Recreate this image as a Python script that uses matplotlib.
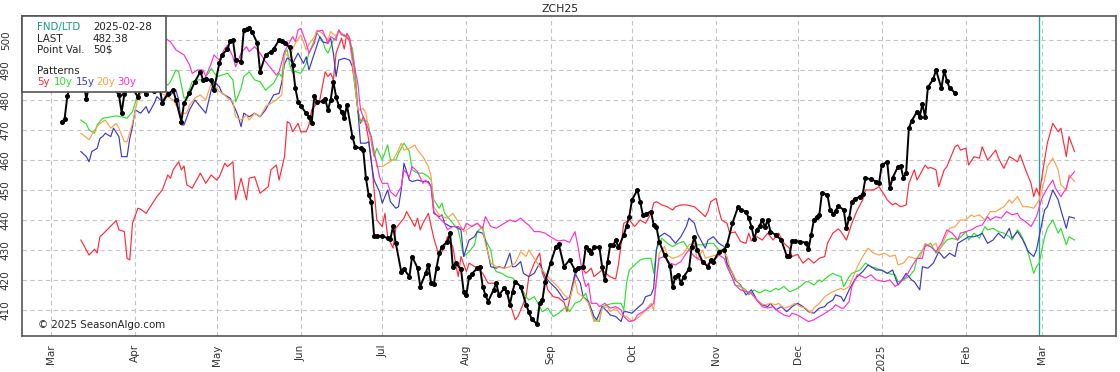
import matplotlib
matplotlib.use("Agg")
import matplotlib.pyplot as plt
import matplotlib.patches as patches
import pandas as pd

# giorni contati dal 2024-03-01
start = pd.Timestamp("2024-03-01")

black_days = [4, 5, 6, 7, 9, 10, 12, 13, 14, 16, 17, 19, 20, 22, 23, 25, 26, 27, 29, 30,
              32, 33, 35, 36, 38, 40, 41, 43, 45, 46, 48, 49, 51, 53, 55, 56, 57, 59, 60, 62,
              63, 65, 66, 67, 68, 70, 71, 72, 73, 74, 76, 77, 79, 81, 82, 84, 85, 86, 88, 89,
              90, 91, 92, 94, 95, 96, 97, 98, 100, 101, 102, 103, 104, 105, 106, 107, 108, 109, 111, 112,
              114, 115, 116, 117, 118, 119, 120, 122, 124, 125, 126, 127, 129, 130, 132, 133, 135, 136, 138, 139,
              140, 141, 142, 143, 144, 146, 147, 148, 149, 151, 152, 153, 154, 155, 157, 158, 159, 160, 161, 163,
              164, 165, 167, 168, 169, 170, 171, 173, 175, 176, 177, 179, 180, 181, 182, 184, 186, 187, 189, 191,
              193, 194, 196, 197, 198, 199, 200, 202, 203, 204, 205, 206, 207, 208, 209, 211, 212, 213, 214, 216,
              217, 218, 219, 221, 222, 223, 224, 226, 228, 229, 230, 231, 232, 233, 235, 236, 237, 238, 240, 242,
              243, 244, 246, 248, 249, 251, 253, 254, 256, 257, 258, 259, 260, 261, 262, 263, 264, 265, 267, 269,
              271, 272, 273, 274, 276, 278, 279, 280, 281, 282, 283, 284, 286, 287, 288, 289, 290, 292, 293, 294,
              295, 296, 298, 299, 300, 302, 304, 305, 306, 308, 309, 310, 312, 313, 314, 315, 316, 317, 319, 320,
              321, 322, 323, 325, 326, 328, 329, 330, 331, 333]
black_vals = [472.7, 473.7, 481.3, 485, 487, 484, 486, 480.2, 485, 487, 486, 488, 485, 486, 484, 481.7, 475.8, 482, 485, 484,
              481, 484, 482, 485, 483, 484, 479, 482, 483.3, 480, 472.8, 479, 482.2, 486.1, 489.4, 486.7, 487, 486.5, 483.3, 492.3,
              495, 497, 499.8, 500, 493.3, 492.8, 503.3, 503.5, 503.9, 502.8, 498.9, 489.4, 495, 496.1, 497, 500, 499.5, 498.9, 497.5, 491.7,
              483.9, 479.4, 478, 475.6, 474.4, 472.2, 481.3, 479.4, 479.5, 480.2, 476.7, 480, 486.1, 481.1, 478, 476, 473.9, 478.3, 467.8, 464.4,
              463.9, 463.3, 453.9, 448.3, 446.1, 434.7, 434.7, 434.7, 433.9, 433.6, 438, 432.2, 422.8, 423.6, 421.1, 427.8, 424, 417.8, 422.2, 425,
              418.9, 418.7, 424, 428.9, 431.1, 432.8, 435.6, 424.4, 425.6, 423.6, 416.1, 415, 421.1, 422, 423.9, 424.4, 417.8, 415, 412.8, 416.7,
              418.9, 415, 417.2, 416, 411.7, 416.1, 419.4, 417.8, 411.7, 409.4, 407, 405.3, 412.2, 413.3, 419.4, 425.6, 431.1, 432, 424.4, 426.7,
              423.3, 424, 424.4, 431.1, 430, 429.1, 430.9, 430.9, 424.4, 420, 426, 431.7, 431.5, 433.3, 430.9, 435, 438, 441.1, 446.7, 450,
              446.1, 441.7, 442, 442.8, 438.3, 437.8, 432.8, 428.3, 424.7, 417.6, 421.1, 421.7, 418.9, 421, 423.6, 431.1, 434.4, 430, 426.1, 424.4,
              426.7, 426.1, 429.4, 430, 431.7, 438.9, 444.2, 443.3, 442.8, 440.6, 437.8, 433.6, 436.7, 438, 440, 437.6, 440, 436.1, 435, 433.3,
              428, 428, 433.1, 433, 432.8, 432.4, 430.2, 435, 440, 441, 441.7, 449.1, 448.3, 443.3, 442, 443, 444.7, 443.3, 437.2, 440.6,
              446.1, 447, 447.8, 448.7, 453.9, 453.6, 452.8, 452.2, 458.3, 459.4, 450.6, 454, 457.8, 458, 453.9, 455.8, 470.6, 473, 476.1, 474.4,
              478.7, 474.2, 484.2, 487, 490, 483.9, 489.8, 486.4, 484, 482.4]

red_days = [11, 14, 16, 17, 18, 20, 24, 25, 27, 28, 29, 30, 32, 33, 35, 37, 39, 41, 43, 44,
            45, 47, 48, 49, 50, 52, 55, 57, 59, 61, 62, 64, 65, 67, 68, 70, 72, 73, 75, 77,
            80, 81, 83, 84, 86, 87, 88, 89, 91, 92, 94, 95, 96, 97, 99, 101, 102, 103, 104, 105,
            107, 108, 109, 110, 111, 112, 113, 114, 115, 116, 117, 118, 119, 120, 122, 123, 124, 126, 127, 130,
            131, 132, 134, 135, 136, 137, 139, 141, 143, 145, 146, 148, 149, 150, 151, 153, 154, 157, 159, 161,
            164, 165, 167, 169, 171, 172, 173, 175, 176, 178, 180, 181, 182, 183, 185, 187, 189, 190, 191, 193,
            194, 196, 197, 199, 200, 203, 206, 208, 209, 211, 213, 215, 217, 219, 221, 222, 223, 225, 227, 229,
            230, 232, 234, 237, 239, 241, 242, 243, 245, 246, 247, 249, 250, 252, 254, 256, 257, 258, 260, 262,
            264, 266, 268, 270, 272, 273, 275, 277, 279, 281, 283, 285, 286, 288, 290, 291, 293, 295, 297, 299,
            300, 303, 305, 307, 308, 310, 311, 313, 315, 316, 318, 319, 322, 323, 324, 326, 327, 329, 330, 331,
            333, 334, 335, 337, 338, 340, 342, 343, 345, 346, 348, 349, 351, 353, 354, 356, 357, 359, 361, 362,
            363, 364, 366, 367, 369, 371, 372, 374, 375, 377]
red_vals = [433.3, 428.3, 430.2, 429, 434.4, 436.1, 439.8, 436.7, 436.1, 427.2, 426.7, 438.9, 443.9, 443.6, 442.2, 445, 447.8, 450, 455, 453.9,
            456.7, 459.4, 456.7, 458, 451.7, 450.6, 455.6, 452.2, 455, 453.3, 454.4, 458.9, 457.8, 459.4, 446.7, 453.9, 446.7, 453.9, 454.4, 448.9,
            451.1, 456.7, 458.3, 453.3, 461.1, 472.8, 472.2, 469.4, 472.2, 469.4, 469.4, 471.7, 476.7, 477.8, 480, 489.4, 487.8, 488.9, 486.7, 495.6,
            500.6, 497, 502.2, 500.6, 495.6, 488.3, 476.7, 472.2, 474.4, 471.7, 466.7, 460, 450, 440, 437.8, 442.2, 434.4, 430.6, 437.2, 440.6,
            442.8, 441.1, 437.8, 440.6, 436.7, 438.9, 442.2, 433.9, 427.8, 431.1, 434.4, 431.1, 425.6, 421.1, 427.8, 422.8, 425.6, 423.9, 422.2, 418.9,
            418.9, 414.4, 417.8, 412.2, 406.7, 407.8, 410, 414.4, 421.1, 425.6, 428.9, 422.2, 420, 416.7, 414.4, 414, 412.5, 409.4, 413.3, 421.1,
            423.9, 423.5, 422.2, 423.9, 421.1, 423.3, 421, 420.3, 425, 438.9, 440, 437.8, 440, 438.9, 442.2, 445.6, 446.1, 445, 444.4, 443.3,
            444.4, 445, 445, 444.4, 442.8, 441.1, 442.8, 446.1, 447.2, 443.3, 440, 438.9, 435.6, 436, 432.8, 432.2, 435.6, 433, 434.4, 433.3,
            435.6, 433.3, 435.6, 432.2, 430.6, 427.8, 428.5, 425.6, 427.2, 425.6, 427.2, 427.8, 432.2, 435.6, 437, 436.1, 433.3, 438.9, 443.3, 446.7,
            450, 450, 451.1, 448.3, 446.7, 445, 445.6, 444.4, 445, 452.2, 456.7, 453.3, 458.3, 457.2, 457.5, 456.7, 451.1, 456.7, 457.8, 460,
            464.4, 465, 463.3, 463.9, 458.3, 461.1, 460.6, 464.4, 460, 461, 463.3, 460.6, 457.2, 461.1, 460.6, 459.4, 461.7, 456.7, 452.2, 447.8,
            450.6, 448.3, 460, 465.6, 472.2, 469.4, 470.6, 461.1, 467.8, 462.8]

green_days = [11, 13, 14, 16, 17, 19, 22, 24, 26, 28, 30, 31, 32, 34, 36, 38, 40, 43, 44, 46,
              47, 49, 50, 52, 54, 56, 58, 59, 61, 63, 65, 67, 68, 70, 71, 73, 75, 77, 79, 82,
              84, 85, 86, 87, 88, 89, 90, 92, 94, 95, 97, 98, 100, 101, 102, 103, 104, 105, 106, 108,
              109, 111, 112, 113, 114, 116, 117, 118, 119, 120, 122, 124, 125, 127, 128, 130, 132, 133, 135, 137,
              139, 140, 141, 143, 144, 145, 146, 148, 150, 151, 152, 154, 156, 157, 159, 160, 162, 163, 164, 166,
              168, 170, 172, 173, 175, 176, 178, 180, 181, 183, 185, 187, 189, 190, 191, 193, 195, 197, 198, 200,
              202, 203, 205, 207, 210, 211, 212, 213, 215, 217, 219, 221, 222, 223, 225, 227, 229, 231, 233, 235,
              237, 238, 240, 242, 244, 246, 248, 249, 251, 252, 254, 256, 257, 259, 261, 263, 265, 267, 268, 270,
              272, 274, 276, 278, 279, 281, 283, 284, 286, 288, 289, 291, 292, 294, 295, 298, 300, 302, 304, 307,
              308, 311, 312, 314, 316, 318, 319, 321, 322, 324, 326, 328, 330, 332, 334, 337, 338, 340, 342, 344,
              345, 347, 349, 351, 353, 354, 356, 357, 359, 360, 362, 363, 364, 366, 367, 369, 371, 372, 374, 375,
              377]
green_vals = [473.3, 472, 470, 468.9, 471.7, 473.9, 474.4, 474.7, 474.4, 473.9, 476.1, 479, 481.1, 483, 485, 484, 486, 485, 486.1, 490,
              489.4, 480.6, 481.1, 486.1, 486.7, 486.7, 488.9, 490.6, 487.8, 488.3, 488.9, 486.7, 479.4, 483.9, 487.8, 489.4, 486.7, 486.1, 483.3, 485.6,
              488.9, 487.8, 495.6, 496.7, 491.5, 489, 489.5, 488.9, 492.2, 495.6, 500, 502.2, 500, 497, 495.6, 497.8, 500, 501.1, 503.3, 501.1,
              501.1, 497.2, 490, 476.7, 472.8, 473.3, 471.7, 465.6, 461.1, 463.9, 460, 465, 460, 460, 462.2, 465.6, 462.8, 456.7, 455.6, 455.6,
              454.4, 453.3, 446.7, 443.9, 445.6, 442.2, 441.1, 438.9, 436.7, 432.2, 427.8, 429.4, 431.7, 436.1, 437.8, 433.3, 430, 424.4, 422.8, 422.2,
              421.1, 420.6, 418.9, 417.8, 414.4, 413.3, 414.4, 411.1, 409.4, 410.6, 407.8, 408.9, 410.5, 411, 409.4, 412.2, 413, 415.6, 412.2, 406.7,
              406.1, 411.1, 411.7, 412.2, 412.2, 410, 418.9, 423.3, 425, 426.7, 427.2, 427.2, 422.2, 430, 433.9, 432.2, 431.1, 432.2, 432.8, 430,
              433.3, 431.7, 431.7, 432.2, 432.2, 430, 430, 425, 420.6, 418.3, 417.8, 416.7, 415, 416.7, 415.6, 416.7, 416.1, 417.2, 416.7, 417.8,
              416.1, 416.7, 417.8, 419.4, 419.4, 418.3, 420, 419.4, 421.1, 422.2, 421.7, 421.1, 417.8, 421.1, 422.2, 423.3, 425.6, 424.4, 423.9, 422.8,
              422.2, 421.7, 419.4, 420, 421.1, 423.3, 427.2, 430, 431.1, 432.2, 428.9, 431.1, 433.3, 433.9, 433.3, 436.1, 433.3, 435.6, 433.9, 437.8,
              436.7, 437.2, 436.1, 435.6, 434.4, 433.3, 436.7, 435.6, 431.7, 428.9, 422.2, 424.4, 425.6, 434.4, 437.2, 440, 435.6, 437.2, 431.7, 434.4,
              433.3]

blue_days = [11, 13, 14, 15, 17, 18, 19, 20, 22, 23, 25, 26, 28, 29, 30, 31, 33, 35, 36, 38,
             39, 41, 43, 44, 46, 47, 48, 49, 51, 53, 55, 57, 59, 60, 62, 63, 66, 68, 69, 70,
             71, 73, 75, 77, 79, 81, 82, 84, 85, 86, 87, 88, 89, 91, 93, 94, 95, 97, 99, 100,
             102, 103, 104, 105, 106, 108, 110, 111, 112, 113, 114, 116, 117, 118, 119, 121, 122, 124, 125, 127,
             128, 129, 130, 132, 133, 135, 137, 139, 140, 141, 143, 144, 145, 147, 149, 151, 152, 154, 156, 157,
             159, 160, 162, 164, 165, 167, 169, 170, 171, 173, 174, 176, 178, 180, 182, 184, 186, 187, 189, 191,
             193, 195, 196, 198, 200, 201, 203, 205, 206, 208, 210, 211, 212, 214, 216, 218, 219, 221, 222, 223,
             224, 226, 228, 230, 232, 234, 235, 237, 238, 240, 241, 242, 244, 245, 246, 248, 249, 251, 252, 254,
             256, 258, 260, 262, 264, 265, 267, 269, 271, 273, 275, 277, 279, 281, 283, 285, 286, 288, 289, 291,
             292, 294, 296, 297, 299, 301, 304, 306, 308, 310, 312, 313, 315, 317, 318, 320, 321, 323, 325, 327,
             329, 331, 333, 334, 336, 338, 340, 342, 343, 345, 347, 349, 351, 353, 354, 356, 358, 360, 362, 363,
             364, 366, 367, 369, 371, 372, 374, 375, 377]
blue_vals = [462.8, 461.1, 459.4, 462.8, 463.9, 467.2, 467.8, 468.9, 467.8, 470.6, 467.8, 461.1, 461.1, 467.2, 471.1, 476.7, 475.6, 477.8, 475.6, 478.9,
             481.1, 479.4, 482.8, 481.7, 483.3, 480, 471.7, 471.7, 476.7, 480, 477.8, 475.6, 483.3, 486.1, 484.4, 482.2, 480.6, 476.7, 474.4, 471.1,
             475.6, 474.4, 475.6, 474.4, 476.7, 480, 481.7, 482.2, 486, 492, 494, 493.5, 492.2, 495.6, 492.2, 494.4, 490, 495.6, 501.1, 499.4,
             498.9, 500.6, 495.6, 487.8, 493.3, 493.9, 493.3, 491.1, 484.4, 476.7, 465.6, 465.6, 466.1, 458.9, 453.3, 449.4, 445.6, 450, 446.1, 443.9,
             444.4, 450, 458.9, 453.3, 452.8, 453.3, 452.8, 452.8, 451.1, 442.2, 441.1, 441.7, 438.9, 437.8, 437.8, 436.7, 427.8, 433.3, 434.4, 436.1,
             435.6, 433.3, 424.4, 423.9, 424.4, 423.9, 428.9, 424.4, 424.4, 426.1, 422.2, 421.1, 422.2, 425.6, 421.1, 418.9, 417.2, 416, 413.3, 414,
             422.2, 418.9, 414.4, 412.8, 407.8, 406.7, 411.1, 409.4, 408.3, 407.8, 406.1, 409.4, 409.4, 408.9, 410.6, 412.2, 414.4, 415, 417.2, 430,
             434.4, 435.6, 434.4, 432.2, 434.4, 437.8, 440.6, 438.9, 435.6, 432.2, 430.6, 433.3, 434.4, 433.3, 432.2, 431.1, 425.6, 422.2, 420, 418.3,
             415, 416.7, 413.3, 411.7, 411.1, 412.2, 410, 411.1, 409.4, 411.1, 412.2, 411.1, 409.4, 408.9, 410.6, 411.1, 412.2, 413.3, 415, 414.4,
             412.8, 416.7, 420, 421.1, 422.8, 425, 423.3, 423.3, 422.2, 423.3, 418.3, 419.4, 422.2, 420, 419.4, 416.7, 424.4, 423.9, 425.6, 429.4,
             427.2, 428.9, 427.8, 432.2, 433.3, 434.4, 434.4, 435, 435.6, 432.2, 433.3, 435.6, 433.9, 437.2, 433.9, 436.1, 433.3, 429.4, 427.8, 430,
             434.4, 443.3, 444.4, 450, 446.7, 443.3, 437.2, 441.1, 440.6]

orange_days = [11, 13, 14, 16, 18, 20, 22, 24, 25, 27, 28, 30, 32, 33, 35, 37, 39, 41, 43, 45,
               46, 48, 50, 51, 53, 55, 57, 59, 60, 62, 64, 65, 67, 68, 70, 72, 73, 75, 77, 79,
               81, 83, 85, 86, 88, 89, 90, 92, 94, 95, 97, 98, 100, 102, 103, 105, 106, 107, 109, 110,
               111, 113, 114, 115, 116, 117, 119, 120, 122, 124, 126, 128, 129, 130, 132, 134, 135, 137, 139, 140,
               141, 143, 144, 146, 148, 150, 152, 155, 157, 159, 160, 162, 164, 167, 169, 171, 173, 175, 176, 178,
               180, 182, 184, 186, 187, 189, 191, 193, 194, 196, 198, 200, 202, 203, 205, 206, 208, 210, 212, 214,
               216, 218, 219, 221, 222, 224, 226, 227, 229, 231, 233, 235, 237, 238, 240, 241, 243, 245, 247, 249,
               250, 252, 254, 256, 257, 259, 261, 263, 265, 267, 268, 270, 272, 274, 276, 278, 280, 281, 283, 285,
               287, 289, 291, 292, 294, 296, 297, 299, 301, 303, 305, 307, 309, 311, 312, 314, 316, 318, 320, 322,
               324, 326, 327, 329, 331, 333, 335, 337, 339, 340, 342, 344, 346, 348, 350, 351, 353, 354, 356, 358,
               360, 362, 364, 366, 367, 369, 371, 372, 374, 375, 377]
orange_vals = [468.9, 467.5, 466.7, 470, 472.2, 473.3, 470.6, 472.2, 470.6, 466.1, 466.1, 472.2, 480.6, 482.2, 483, 484, 483, 482, 481.1, 480,
               478.3, 475.6, 475.6, 478.3, 480.6, 481.7, 480, 485.6, 485, 482.8, 481.7, 480.6, 479.4, 474.4, 473.3, 475, 473.3, 475.6, 474.4, 477.8,
               478.9, 480, 481.7, 495.6, 494, 497, 498.9, 501.7, 496.7, 498.5, 501.1, 503.3, 502.2, 500, 502.8, 501.1, 503.3, 502.2, 501.1, 499.4,
               492.2, 476.7, 476.7, 477.2, 475.6, 470, 463.3, 457.8, 457.8, 458.9, 460, 463.3, 465.6, 463.3, 463.9, 465, 463.3, 461.1, 457.8, 454.4,
               444.4, 441.7, 441.1, 440.6, 442.2, 439.4, 436.1, 437.8, 438.9, 436.7, 432.2, 425.6, 424.4, 423.9, 424.4, 425.6, 429.4, 427.8, 430, 427.2,
               424.4, 422.2, 420, 418.3, 417.5, 415, 413.5, 420, 415.6, 414.4, 412.2, 406.1, 406.7, 410.6, 411.1, 409.4, 410.6, 408.3, 407.8, 406.1,
               407.2, 408.9, 410, 412.2, 410, 428.9, 431.1, 428.3, 427.2, 427.8, 428.9, 431.7, 432.2, 426.7, 430, 427.2, 427.8, 428.3, 430, 427.8,
               424.4, 420.6, 417.8, 416.1, 416.1, 414.4, 412.2, 411.7, 412.2, 411.7, 412.2, 410.6, 411.1, 412.2, 411.1, 410.6, 408.9, 410.6, 412.2, 414.4,
               415.6, 416.5, 417.2, 416.7, 417.8, 422.2, 424.4, 427.8, 430.6, 428.9, 428.3, 428.9, 427.8, 428.3, 425, 425.6, 427.8, 427.2, 427.2, 432.2,
               431.1, 432.2, 429.4, 433.3, 437.2, 437.8, 440, 440, 441.7, 441.1, 441.7, 440, 442.8, 442.8, 443.9, 444.4, 446.7, 445.6, 447.8, 444.4,
               444.4, 443.9, 446.7, 453.3, 457.8, 460.6, 456.7, 451.7, 450, 455, 452.8]

magenta_days = [11, 14, 17, 20, 23, 26, 29, 32, 35, 38, 41, 43, 44, 46, 49, 51, 52, 54, 56, 57,
                59, 60, 62, 64, 65, 67, 68, 70, 72, 73, 75, 77, 79, 81, 83, 84, 86, 87, 89, 90,
                91, 92, 94, 95, 97, 98, 100, 102, 103, 105, 106, 107, 108, 110, 111, 113, 114, 115, 116, 118,
                119, 120, 121, 122, 124, 125, 127, 129, 130, 132, 133, 135, 137, 138, 140, 141, 143, 145, 146, 148,
                150, 152, 153, 155, 157, 159, 160, 162, 164, 165, 167, 169, 171, 173, 175, 176, 178, 180, 182, 184,
                186, 187, 189, 191, 192, 193, 194, 196, 197, 198, 199, 201, 202, 204, 206, 208, 210, 211, 213, 215,
                216, 218, 220, 222, 223, 224, 226, 228, 230, 232, 234, 235, 237, 239, 241, 243, 245, 246, 248, 249,
                251, 252, 254, 256, 258, 260, 262, 264, 266, 268, 270, 272, 273, 275, 277, 279, 281, 283, 284, 286,
                288, 289, 291, 292, 294, 295, 297, 299, 300, 302, 304, 307, 309, 311, 313, 315, 317, 319, 321, 322,
                324, 326, 328, 330, 332, 334, 335, 337, 339, 341, 343, 345, 346, 348, 350, 352, 354, 356, 357, 359,
                361, 363, 365, 367, 369, 370, 372, 374, 375, 377]
magenta_vals = [495, 497, 499, 498, 500, 497, 495, 498, 500, 501, 501.5, 500, 499.4, 496.7, 495, 491.7, 488.9, 490, 490, 487.8,
                492.2, 495, 493.3, 497.2, 498.3, 494.4, 491.1, 495.6, 497.8, 496.1, 497.8, 495.6, 492.8, 490.6, 488.3, 489.4, 496.1, 497.8, 501.1, 499.5,
                503.3, 503.9, 498.9, 495.6, 498.9, 502.8, 503.3, 498.9, 501.1, 500, 503.3, 501.7, 501.7, 500, 494.4, 485.6, 476.7, 474.4, 472.2, 467.8,
                462.2, 458.9, 454.4, 452.2, 452.2, 449.4, 447.8, 451.1, 456.7, 454.4, 457.8, 456.1, 452.2, 453.3, 451.1, 442.8, 440.6, 438.9, 436.7, 437.8,
                437.8, 436.7, 438.9, 437.8, 438.9, 437.2, 441.1, 437.8, 437.2, 437.8, 438.9, 440, 439.4, 440.6, 438.9, 438.3, 436.1, 436.1, 435.6, 434.4,
                433.3, 433, 433.3, 432.5, 434.4, 436.1, 431.7, 421.1, 417.8, 418.9, 412.2, 412.2, 411.1, 412.2, 410.6, 411.1, 410, 407.8, 406.1, 406.7,
                408.3, 409.4, 410.6, 412.2, 420, 427.2, 427.8, 425.6, 425, 426.1, 428.9, 430, 427.8, 426.7, 425, 425.6, 427.2, 428.3, 427.2, 424.4,
                420.6, 418.3, 416.7, 416.1, 415.6, 413.3, 411.1, 410.6, 411.1, 409.4, 408.3, 407.8, 408.9, 408.3, 407.2, 406.1, 406.7, 407.8, 408.3, 409.4,
                410.6, 411.7, 410.6, 410.6, 412.8, 417.8, 421.7, 421.1, 420.6, 421.7, 420, 419.4, 420, 417.8, 419.4, 421.1, 424.4, 427.2, 427.2, 431.7,
                431.1, 429.4, 432.2, 436.7, 435.6, 433.3, 435.6, 436.1, 436.7, 437.8, 438.3, 441.1, 440, 441.1, 440.6, 442.8, 441.7, 442.2, 440.6, 439.4,
                437.8, 441.1, 447.2, 450.6, 453.3, 450.6, 447.8, 450.6, 453.9, 456.1]

month_ticks = ["2024-03-01", "2024-04-01", "2024-05-01", "2024-06-01", "2024-07-01", "2024-08-01", "2024-09-01",
               "2024-10-01", "2024-11-01", "2024-12-01", "2025-01-01", "2025-02-01", "2025-03-01"]
month_labels = ["Mar", "Apr", "May", "Jun", "Jul", "Aug", "Sep", "Oct", "Nov", "Dec", "2025", "Feb", "Mar"]
y_ticks = [410, 420, 430, 440, 450, 460, 470, 480, 490, 500]

fnd_date = "2025-02-28"
last_price = "482.38"
point_val = "50$"


def to_dates(days):
    return start + pd.to_timedelta(days, unit="D")


fig = plt.figure(figsize=(11.2, 3.72), dpi=100)
ax = fig.add_axes([22 / 1120, 36 / 372, 1094 / 1120, 320 / 372])

# le linee dei pattern
patterns = [
    (red_days, red_vals, "#ff2b3a"),
    (green_days, green_vals, "#2fe02f"),
    (blue_days, blue_vals, "#3a3ac0"),
    (orange_days, orange_vals, "#ffa04a"),
    (magenta_days, magenta_vals, "#ff30d0"),
]
for days, vals, col in patterns:
    ax.plot(to_dates(days), vals, color=col, linewidth=0.85, zorder=3)

# prezzo reale
ax.plot(to_dates(black_days), black_vals, color="black", linewidth=1.4,
        marker="o", markersize=2.6, zorder=4)

ax.axvline(pd.Timestamp(fnd_date), color="#20a0a0", linewidth=1.0, zorder=2)

ax.set_xlim(start - pd.Timedelta(days=10.7), start + pd.Timedelta(days=392.3))
ax.set_ylim(401.3, 508)

ax.set_xticks(pd.to_datetime(month_ticks))
ax.set_xticklabels(month_labels, rotation=90, fontsize=7.5, color="#333333")
ax.set_yticks(y_ticks)
ax.set_yticklabels([str(v) for v in y_ticks], rotation=90, va="center", fontsize=7.5, color="#333333")
ax.tick_params(axis="both", length=0)
ax.tick_params(axis="x", pad=6)
ax.tick_params(axis="y", pad=8)

ax.grid(True, color="#c4c4c4", linestyle=(0, (4, 3)), linewidth=0.8, zorder=0)
ax.set_axisbelow(True)
for sp in ax.spines.values():
    sp.set_color("#555555")
    sp.set_linewidth(1.2)

fig.text(0.5, 1 - 9 / 372, "ZCH25", ha="center", va="center", fontsize=7.8, color="#222222")

# riquadro informazioni in alto a sinistra
box = patches.Rectangle((0, 0.7625), 144 / 1094, 0.2375, transform=ax.transAxes,
                        facecolor="white", edgecolor="#555555", linewidth=1.2, zorder=10,
                        clip_on=False)
ax.add_patch(box)


def px(x, y):
    return (x - 22) / 1094, (336 - y) / 320


fs = 7.4
rows = [("FND/LTD", fnd_date, 27, "#1a9a80"),
        ("LAST", last_price, 39, "#222222"),
        ("Point Val.", point_val, 50, "#222222")]
for label, value, y, col in rows:
    ax.text(*px(37, y), label, transform=ax.transAxes, fontsize=fs, color=col, va="center", zorder=11)
    ax.text(*px(93, y), value, transform=ax.transAxes, fontsize=fs, color="#222222", va="center", zorder=11)
ax.text(*px(37, 71), "Patterns", transform=ax.transAxes, fontsize=fs, color="#222222", va="center", zorder=11)
for label, x, col in [("5y", 37, "#ff2b3a"), ("10y", 54, "#2fe02f"), ("15y", 76, "#3a3ac0"),
                      ("20y", 96, "#ffa04a"), ("30y", 117, "#ff30d0")]:
    ax.text(*px(x, 82), label, transform=ax.transAxes, fontsize=fs, color=col, va="center", zorder=11)

ax.text(*px(38, 325), "\u00a9 2025 SeasonAlgo.com", transform=ax.transAxes, fontsize=fs,
        color="#222222", va="center", zorder=11)

fig.savefig("out.png", dpi=100)
